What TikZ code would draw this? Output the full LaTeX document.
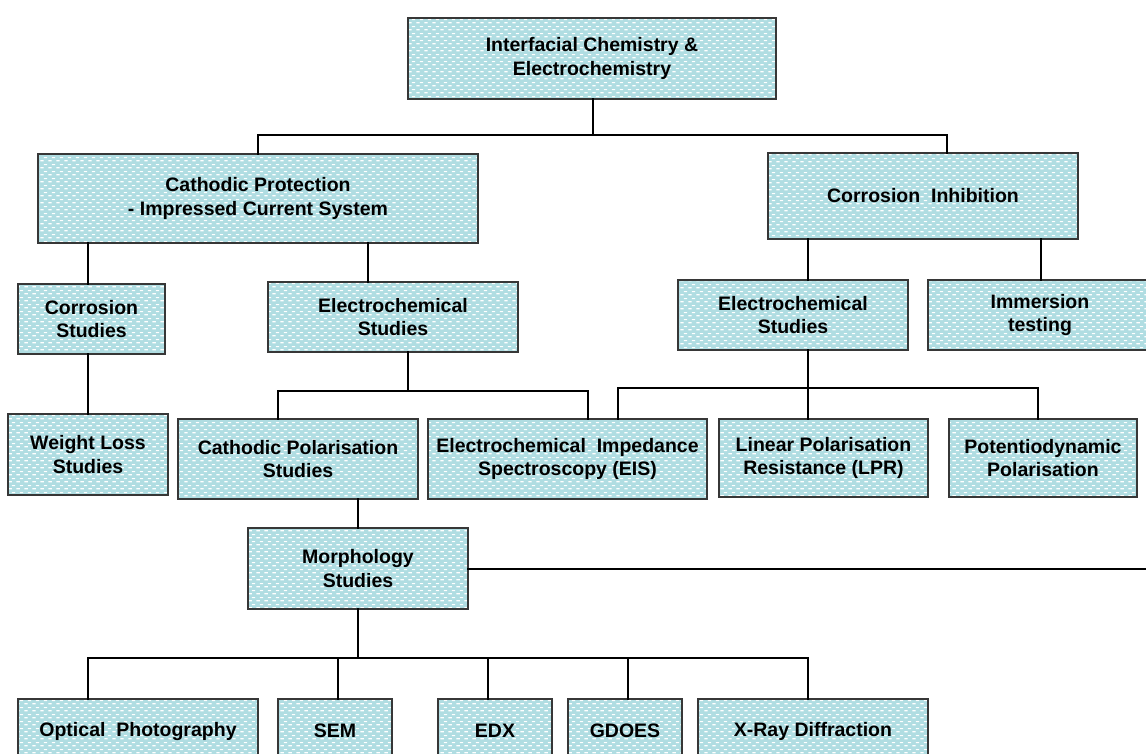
\documentclass[tikz,border=0pt]{standalone}
\usepackage{fontspec}
\setmainfont{Liberation Sans}
\usetikzlibrary{patterns.meta}
\definecolor{boxfill}{RGB}{176,221,226}
\definecolor{boxline}{RGB}{55,55,55}
\tikzdeclarepattern{
  name=wdash,
  type=uncolored,
  bounding box={(0pt,0pt) and (8pt,6.6pt)},
  tile size={(8pt,6.6pt)},
  code={
    \fill (0.4pt,0.7pt) rectangle (4.2pt,1.9pt);
    \fill (4.4pt,4.0pt) rectangle (7.9pt,5.2pt);
  }
}
\tikzset{
  box/.style={draw=boxline, line width=1.6pt, pattern=wdash, pattern color=white,
    preaction={fill=boxfill}, align=center, inner sep=0pt,
    font=\fontsize{19.5}{23.5}\selectfont\bfseries},
  conn/.style={draw=black, line width=2.9pt, line cap=rect}
}
\newcommand{\bx}[6]{% name, x1, x2, y1, y2, text
  \node[box, minimum width={(#3-#2)*1pt}, minimum height={(#5-#4)*1pt}]
    (#1) at ({(#2+#3)/2},{(#4+#5)/2}) {#6};}
\begin{document}
\begin{tikzpicture}[x=1pt,y=-1pt]
\useasboundingbox (0,0) rectangle (1146,754);
\bx{top}{408}{776}{18}{99}{Interfacial Chemistry \&\\Electrochemistry}
\bx{cp}{38}{478}{154}{243}{Cathodic Protection\\- Impressed Current System}
\bx{ci}{768}{1078}{153}{239}{Corrosion\ \ Inhibition}
\bx{cs}{18}{165}{284}{354}{Corrosion\\Studies}
\bx{esl}{268}{518}{282}{352}{Electrochemical\\Studies}
\bx{esr}{678}{908}{280}{350}{Electrochemical\\Studies}
\bx{imm}{928}{1152}{280}{350}{Immersion\\testing}
\bx{wl}{8}{168}{414}{495}{Weight Loss\\Studies}
\bx{cps}{178}{418}{419}{499}{Cathodic Polarisation\\Studies}
\bx{eis}{428}{707}{419}{499}{Electrochemical\ \ Impedance\\Spectroscopy (EIS)}
\bx{lpr}{719}{928}{419}{497}{Linear Polarisation\\Resistance (LPR)}
\bx{pp}{949}{1137}{419}{497}{Potentiodynamic\\Polarisation}
\bx{mor}{248}{468}{528}{609}{Morphology\\Studies}
\bx{op}{18}{258}{699}{763}{Optical\ \ Photography}
\bx{sem}{278}{392}{699}{763}{SEM}
\bx{edx}{438}{552}{699}{763}{EDX}
\bx{gd}{568}{682}{699}{763}{GDOES}
\bx{xrd}{698}{928}{699}{763}{X-Ray Diffraction}
% junction coordinates
\coordinate (j0) at (593,135);
\coordinate (j0l) at (258,135);
\coordinate (j0r) at (947,135);
\coordinate (a1) at (88,0);
\coordinate (a2) at (368,0);
\coordinate (a3) at (808,0);
\coordinate (a4) at (1041,0);
\coordinate (j1) at (408,391);
\coordinate (j1l) at (278,391);
\coordinate (j1r) at (588,391);
\coordinate (j2) at (808,388);
\coordinate (j2l) at (618,388);
\coordinate (j2r) at (1038,388);
\coordinate (a5) at (358,0);
\coordinate (mend) at (1150,569);
\coordinate (j3) at (358,658);
\coordinate (j3l) at (88,658);
\coordinate (j3r) at (808,658);
\coordinate (b2) at (338,0);
\coordinate (b3) at (488,0);
\coordinate (b4) at (628,0);
% connectors
\draw[conn] (top.south -| j0) -- (j0);
\draw[conn] (cp.north -| j0l) -- (j0l) -- (j0r) -- (ci.north -| j0r);
\draw[conn] (cp.south -| a1) -- (cs.north -| a1);
\draw[conn] (cp.south -| a2) -- (esl.north -| a2);
\draw[conn] (ci.south -| a3) -- (esr.north -| a3);
\draw[conn] (ci.south -| a4) -- (imm.north -| a4);
\draw[conn] (cs.south -| a1) -- (wl.north -| a1);
\draw[conn] (esl.south -| j1) -- (j1);
\draw[conn] (cps.north -| j1l) -- (j1l) -- (j1r) -- (eis.north -| j1r);
\draw[conn] (esr.south -| j2) -- (j2);
\draw[conn] (eis.north -| j2l) -- (j2l) -- (j2r) -- (pp.north -| j2r);
\draw[conn] (j2) -- (lpr.north -| j2);
\draw[conn] (cps.south -| a5) -- (mor.north -| a5);
\draw[conn] (mor.east |- mend) -- (mend);
\draw[conn] (mor.south -| j3) -- (j3);
\draw[conn] (op.north -| j3l) -- (j3l) -- (j3r) -- (xrd.north -| j3r);
\draw[conn] (sem.north -| b2) -- (b2 |- j3);
\draw[conn] (edx.north -| b3) -- (b3 |- j3);
\draw[conn] (gd.north -| b4) -- (b4 |- j3);
\end{tikzpicture}
\end{document}
